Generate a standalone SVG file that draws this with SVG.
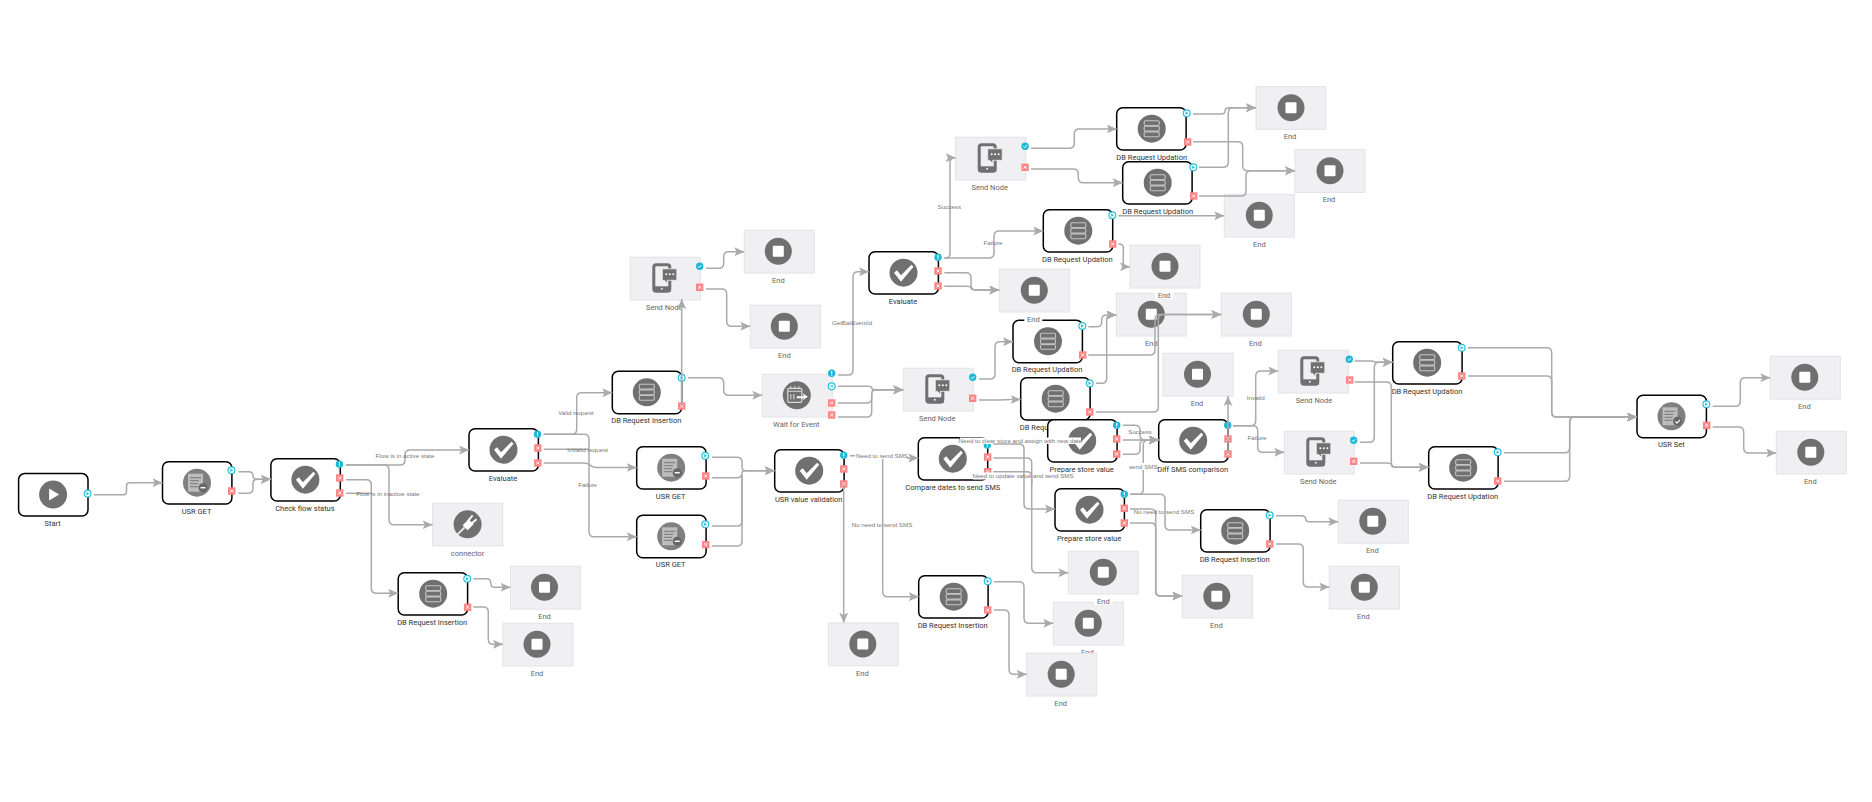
<svg xmlns="http://www.w3.org/2000/svg" width="1872" height="802" viewBox="0 0 1872 802">
<style>
text{font-family:Roboto,"Liberation Sans",Arial,sans-serif}
.n{fill:#fff;stroke:#000;stroke-width:1.5}
.b{fill:#f0f0f2;stroke:#e6e6e8;stroke-width:1.2}
.l{font-size:7.500px;fill:#333;text-anchor:middle}
.g{font-size:7.500px;fill:#666;text-anchor:middle}
.e{font-size:6.2px;fill:#777;text-anchor:middle;font-family:"Liberation Sans",Arial,sans-serif}
.w{fill:#fff}
.c path{fill:none;stroke:#aaa;stroke-width:1.500;marker-end:url(#a)}
.c path.t{marker-end:none}
</style>
<defs>
<marker id="a" markerUnits="userSpaceOnUse" markerWidth="11" markerHeight="9" refX="10" refY="4.500" orient="auto"><path d="M0 0L10 4.500L0 9L2.200 4.500Z" fill="#aaa"/></marker>
<g id="i-check"><circle r="14" fill="#707070"/><path d="M-9.500 0L-6.500-2.500L-2.500 2.500L8-8L10-6L-2.500 9Z" fill="#fff"/></g>
<g id="i-play"><circle r="14" fill="#707070"/><path d="M-4-6L6 0L-4 6Z" fill="#fff"/></g>
<g id="i-stop"><circle r="13.500" fill="#707070"/><rect x="-5.500" y="-5.500" width="11" height="11" rx="1" fill="#fff"/></g>
<g id="i-db"><circle r="14" fill="#707070"/><g fill="none" stroke="#c4c4c4" stroke-width="1.100"><rect x="-7.500" y="-8" width="15" height="4.800" rx="1.200"/><rect x="-7.500" y="-2.400" width="15" height="4.800" rx="1.200"/><rect x="-7.500" y="3.200" width="15" height="4.800" rx="1.200"/></g></g>
<g id="i-get"><circle r="14" fill="#808080"/><rect x="-9" y="-9" width="15" height="18" fill="#bdbdbd"/><path d="M-7-5H4M-7-2H2M-7 1H1M-7 4H1" stroke="#777" stroke-width="1"/><circle cx="6" cy="5" r="4.500" fill="#666"/><path d="M3.500 5H8.500" stroke="#fff" stroke-width="1.500"/></g>
<g id="i-set"><circle r="14" fill="#808080"/><rect x="-9" y="-9" width="15" height="18" fill="#bdbdbd"/><path d="M-7-5H4M-7-2H2M-7 1H1M-7 4H1" stroke="#777" stroke-width="1"/><circle cx="6" cy="5" r="4.500" fill="#666"/><path d="M3.800 5L5.500 6.800L8.500 3.500" fill="none" stroke="#fff" stroke-width="1.200"/></g>
<g id="i-send"><rect x="-11.500" y="-13.500" width="16" height="26.500" rx="2.500" fill="none" stroke="#707070" stroke-width="3"/><path d="M-12 8H5.500V13.500H-12Z" fill="#707070"/><circle cx="-3.500" cy="10.500" r="1" fill="#f0f0f2"/><path d="M-3-9.500H11.500V2H2V5L-1 2H-3Z" fill="#707070" stroke="#f0f0f2" stroke-width=".8"/><circle cx="1" cy="-4" r="1" fill="#fff"/><circle cx="4.500" cy="-4" r="1" fill="#fff"/><circle cx="8" cy="-4" r="1" fill="#fff"/></g>
<g id="i-wait"><circle r="14" fill="#707070"/><rect x="-9" y="-7" width="14" height="14" rx="1" fill="none" stroke="#d8d8d8" stroke-width="1.200"/><path d="M-9-4H5M-6-9V-6M-2-9V-6M2-9V-6M-6-1V4M-3-1V4" stroke="#d8d8d8" stroke-width="1.100"/><path d="M0 1H7L6 -2L11 1.500L6 5L7 3H0Z" fill="#fff"/></g>
<g id="i-plug"><circle r="14" fill="#707070"/><path d="M-11 11L-3 3M-6 6L-9 9" stroke="#f0f0f2" stroke-width="1.800"/><path d="M-5 1L1-5L6 0L0 6Z" fill="#fff"/><path d="M0-3L5-9M3 0L9-5" stroke="#fff" stroke-width="1.800"/></g>
<g id="p-play"><circle r="3.400" fill="#fff" stroke="#2bbfdc" stroke-width="1.200"/><path d="M-1.200-1.800L1.800 0L-1.200 1.800Z" fill="#2bbfdc"/></g>
<g id="p-x"><rect x="-3.700" y="-3.700" width="7.400" height="7.400" fill="#ff8585"/><path d="M-1.500-1.500L1.500 1.500M1.500-1.500L-1.500 1.500" stroke="#fff" stroke-width="1"/></g>
<g id="p-bang"><circle r="3.700" fill="#1fb7d8"/><path d="M0-2.200V.600M0 1.400V2.400" stroke="#fff" stroke-width="1.100"/></g>
<g id="p-check"><circle r="3.700" fill="#1fb7d8"/><path d="M-1.600 0L-.400 1.300L1.700-1.200" fill="none" stroke="#fff" stroke-width="1"/></g>
<g id="p-cx"><circle r="3.500" fill="#fff" stroke="#2bbfdc" stroke-width="1.200"/><path d="M-1.300-1.300L1.300 1.300M1.300-1.300L-1.300 1.300" stroke="#2bbfdc" stroke-width="1"/></g>
<g id="p-dot"><circle r="3.700" fill="#1fb7d8"/></g>
</defs>
<rect width="1872" height="802" fill="#fff"/>
<g id="nodes">
<g id="start" transform="translate(18.600 473.600)"><rect class="n" width="69.400" height="42.400" rx="6"/><use href="#i-play" x="34.500" y="21"/><use href="#p-play" x="69" y="20"/><text class="l" x="34" y="52">Start</text></g>
<g id="usr-get-1" transform="translate(162.500 461.700)"><rect class="n" width="69.400" height="42.400" rx="6"/><use href="#i-get" x="34.500" y="21"/><use href="#p-play" x="69" y="8.600"/><use href="#p-x" x="69.200" y="29.300"/><text class="l" x="34" y="52">USR GET</text></g>
<g id="check-flow" transform="translate(270.900 458.700)"><rect class="n" width="69.400" height="42.400" rx="6"/><use href="#i-check" x="34.500" y="21"/><use href="#p-bang" x="68.500" y="5.600"/><use href="#p-x" x="68.800" y="19.300"/><use href="#p-x" x="68.800" y="34.300"/><text class="l" x="34" y="52">Check flow status</text></g>
<g id="evaluate-1" transform="translate(469 428.700)"><rect class="n" width="69.400" height="42.400" rx="6"/><use href="#i-check" x="34.500" y="21"/><use href="#p-bang" x="68.500" y="5.600"/><use href="#p-x" x="68.800" y="19.300"/><use href="#p-x" x="68.800" y="34.300"/><text class="l" x="34" y="52">Evaluate</text></g>
<g id="connector" transform="translate(432.600 503.300)"><rect class="b" width="70" height="42.700"/><use href="#i-plug" x="35" y="21"/><text class="g" x="35" y="52.500">connector</text></g>
<g id="db-insert-1" transform="translate(398.200 572.700)"><rect class="n" width="69.400" height="42.400" rx="6"/><use href="#i-db" x="35" y="21"/><use href="#p-play" x="69" y="6"/><use href="#p-x" x="69.400" y="34.600"/><text class="l" x="34" y="52">DB Request Insertion</text></g>
<g id="end-a" transform="translate(510.500 566.300)"><rect class="b" width="70" height="42.700"/><use href="#i-stop" x="34" y="21"/><text class="g" x="34" y="52.500">End</text></g>
<g id="end-b" transform="translate(503 623.300)"><rect class="b" width="70" height="42.700"/><use href="#i-stop" x="34" y="21"/><text class="g" x="34" y="52.500">End</text></g>
<g id="db-insert-2" transform="translate(612.300 371.300)"><rect class="n" width="69.400" height="42.400" rx="6"/><use href="#i-db" x="34.500" y="21"/><use href="#p-play" x="69.400" y="6.400"/><use href="#p-x" x="69.400" y="34.700"/><text class="l" x="34" y="52">DB Request Insertion</text></g>
<g id="send-1" transform="translate(630.300 257.300)"><rect class="b" width="70" height="42.700"/><use href="#i-send" x="35" y="21"/><use href="#p-check" x="69.400" y="9"/><use href="#p-x" x="69.400" y="30"/><text class="g" x="34" y="52.500">Send Node</text></g>
<g id="end-c" transform="translate(744.300 230.300)"><rect class="b" width="70" height="42.700"/><use href="#i-stop" x="34" y="21"/><text class="g" x="34" y="52.500">End</text></g>
<g id="end-d" transform="translate(750.300 305.300)"><rect class="b" width="70" height="42.700"/><use href="#i-stop" x="34" y="21"/><text class="g" x="34" y="52.500">End</text></g>
<g id="wait" transform="translate(762.300 374.300)"><rect class="b" width="70" height="42.700"/><use href="#i-wait" x="34.500" y="21"/><use href="#p-bang" x="69.400" y="-1"/><use href="#p-cx" x="69.400" y="12"/><use href="#p-x" x="69.400" y="28.700"/><use href="#p-x" x="69.400" y="40.700"/><text class="g" x="34" y="52.500">Wait for Event</text></g>
<g id="usr-get-2" transform="translate(636.700 446.700)"><rect class="n" width="69.400" height="42.400" rx="6"/><use href="#i-get" x="34.500" y="21"/><use href="#p-play" x="68.600" y="9"/><use href="#p-x" x="69" y="29.300"/><text class="l" x="34" y="52">USR GET</text></g>
<g id="usr-get-3" transform="translate(636.700 515.300)"><rect class="n" width="69.400" height="42.400" rx="6"/><use href="#i-get" x="34.500" y="21"/><use href="#p-play" x="68.600" y="9"/><use href="#p-x" x="69" y="29.300"/><text class="l" x="34" y="52">USR GET</text></g>
<g id="usr-validation" transform="translate(774.700 449.700)"><rect class="n" width="69.400" height="42.400" rx="6"/><use href="#i-check" x="34.500" y="21"/><use href="#p-bang" x="69" y="5.600"/><use href="#p-x" x="69" y="19.300"/><use href="#p-x" x="69" y="34.300"/><text class="l" x="34" y="52">USR value validation</text></g>
<g id="evaluate-2" transform="translate(869 251.700)"><rect class="n" width="69.400" height="42.400" rx="6"/><use href="#i-check" x="34.500" y="21"/><use href="#p-bang" x="69" y="5.600"/><use href="#p-x" x="69" y="19.300"/><use href="#p-x" x="69" y="34.300"/><text class="l" x="34" y="52">Evaluate</text></g>
<g id="send-2" transform="translate(903.300 368.300)"><rect class="b" width="70" height="42.700"/><use href="#i-send" x="35" y="21"/><use href="#p-check" x="69.400" y="9"/><use href="#p-x" x="69.400" y="30"/><text class="g" x="34" y="52.500">Send Node</text></g>
<g id="send-3" transform="translate(955.700 137.300)"><rect class="b" width="70" height="42.700"/><use href="#i-send" x="35" y="21"/><use href="#p-check" x="69.400" y="9"/><use href="#p-x" x="69.400" y="30"/><text class="g" x="34" y="52.500">Send Node</text></g>
<g id="db-up-a" transform="translate(1116.700 107.700)"><rect class="n" width="69.400" height="42.400" rx="6"/><use href="#i-db" x="35" y="21"/><use href="#p-play" x="70" y="5.600"/><use href="#p-x" x="71" y="34.300"/><text class="l" x="35" y="52">DB Request Updation</text></g>
<g id="db-up-b" transform="translate(1122.700 161.700)"><rect class="n" width="69.400" height="42.400" rx="6"/><use href="#i-db" x="35" y="21"/><use href="#p-play" x="70.600" y="5.600"/><use href="#p-x" x="71" y="34.300"/><text class="l" x="35" y="52">DB Request Updation</text></g>
<g id="db-up-c" transform="translate(1043.300 209.700)"><rect class="n" width="69.400" height="42.400" rx="6"/><use href="#i-db" x="35" y="21"/><use href="#p-play" x="69" y="5.600"/><use href="#p-x" x="69.400" y="34.300"/><text class="l" x="34" y="52">DB Request Updation</text></g>
<g id="end-e" transform="translate(1256 86.700)"><rect class="b" width="70" height="42.700"/><use href="#i-stop" x="35" y="21"/><text class="g" x="34" y="52.500">End</text></g>
<g id="end-f" transform="translate(1295 149.700)"><rect class="b" width="70" height="42.700"/><use href="#i-stop" x="35" y="21"/><text class="g" x="34" y="52.500">End</text></g>
<g id="end-g" transform="translate(1224.300 194.300)"><rect class="b" width="70" height="42.700"/><use href="#i-stop" x="35" y="21"/><text class="g" x="35" y="52.500">End</text></g>
<g id="end-j" transform="translate(1116.300 293.300)"><rect class="b" width="70" height="42.700"/><use href="#i-stop" x="35" y="21"/><text class="g" x="35" y="52.500">End</text></g>
<g id="end-k" transform="translate(1221.300 293.300)"><rect class="b" width="70" height="42.700"/><use href="#i-stop" x="35" y="21"/><text class="g" x="34" y="52.500">End</text></g>
<g id="db-up-d" transform="translate(1013 320.300)"><rect class="n" width="69.400" height="42.400" rx="6"/><use href="#i-db" x="35" y="21"/><use href="#p-play" x="69.300" y="5.700"/><use href="#p-x" x="69.700" y="34.700"/><text class="l" x="34" y="52">DB Request Updation</text></g>
<g id="db-up-e" transform="translate(1020.700 377.700)"><rect class="n" width="69.400" height="42.400" rx="6"/><use href="#i-db" x="35" y="21"/><use href="#p-play" x="69" y="5.600"/><use href="#p-x" x="69" y="34.300"/><text class="l" x="34.500" y="52">DB Request Updation</text></g>
<g id="prepare-1" transform="translate(1047.700 419.700)"><rect class="n" width="69.400" height="42.400" rx="6"/><use href="#i-check" x="34.500" y="21"/><use href="#p-bang" x="69" y="5.600"/><use href="#p-x" x="69" y="19.300"/><use href="#p-x" x="69" y="34.300"/><text class="l" x="34" y="52">Prepare store value</text></g>
<g id="prepare-2" transform="translate(1055 488.700)"><rect class="n" width="69.400" height="42.400" rx="6"/><use href="#i-check" x="34.500" y="21"/><use href="#p-bang" x="69.300" y="5.600"/><use href="#p-x" x="69.300" y="19.600"/><use href="#p-x" x="69.300" y="34.300"/><text class="l" x="34" y="52">Prepare store value</text></g>
<g id="diff-sms" transform="translate(1158.700 419.700)"><rect class="n" width="69.400" height="42.400" rx="6"/><use href="#i-check" x="34.500" y="21"/><use href="#p-dot" x="69" y="5.600"/><use href="#p-x" x="69.300" y="19.300"/><use href="#p-x" x="69.300" y="34.300"/><text class="l" x="34" y="52">Diff SMS comparison</text></g>
<g id="end-l" transform="translate(1163 353.300)"><rect class="b" width="70" height="42.700"/><use href="#i-stop" x="34.500" y="21"/><text class="g" x="34" y="52.500">End</text></g>
<g id="compare" transform="translate(918.300 437.700)"><rect class="n" width="69.400" height="42.400" rx="6"/><use href="#i-check" x="34.500" y="21"/><use href="#p-bang" x="69" y="7.300"/><use href="#p-x" x="69.400" y="19.300"/><use href="#p-x" x="69.400" y="34"/><text class="l" x="34.400" y="52">Compare dates to send SMS</text></g>
<g id="end-m" transform="translate(828.300 623)"><rect class="b" width="70" height="42.700"/><use href="#i-stop" x="34.500" y="21"/><text class="g" x="34" y="52.500">End</text></g>
<g id="db-insert-f" transform="translate(918.700 575.700)"><rect class="n" width="69.400" height="42.400" rx="6"/><use href="#i-db" x="35" y="21"/><use href="#p-play" x="69" y="5.600"/><use href="#p-x" x="69" y="34.300"/><text class="l" x="34" y="52">DB Request Insertion</text></g>
<g id="end-q" transform="translate(1182.300 575.300)"><rect class="b" width="70" height="42.700"/><use href="#i-stop" x="34.500" y="21"/><text class="g" x="34" y="52.500">End</text></g>
<g id="db-insert-g" transform="translate(1200.700 509.700)"><rect class="n" width="69.400" height="42.400" rx="6"/><use href="#i-db" x="34.500" y="21"/><use href="#p-play" x="69" y="5.600"/><use href="#p-x" x="69" y="34.300"/><text class="l" x="34" y="52">DB Request Insertion</text></g>
<g id="end-r" transform="translate(1338.300 500.300)"><rect class="b" width="70" height="42.700"/><use href="#i-stop" x="34.500" y="21"/><text class="g" x="34" y="52.500">End</text></g>
<g id="end-s" transform="translate(1329.300 566.300)"><rect class="b" width="70" height="42.700"/><use href="#i-stop" x="35" y="21"/><text class="g" x="34" y="52.500">End</text></g>
<g id="send-4" transform="translate(1278.300 350.300)"><rect class="b" width="70" height="42.700"/><use href="#i-send" x="35" y="21"/><use href="#p-check" x="71" y="9"/><use href="#p-x" x="71.400" y="29.700"/><text class="g" x="35.700" y="52.500">Send Node</text></g>
<g id="send-5" transform="translate(1284.300 431.300)"><rect class="b" width="70" height="42.700"/><use href="#i-send" x="35" y="21"/><use href="#p-check" x="69.400" y="9"/><use href="#p-x" x="69.400" y="30"/><text class="g" x="34" y="52.500">Send Node</text></g>
<g id="db-up-h" transform="translate(1392.700 341.700)"><rect class="n" width="69.400" height="42.400" rx="6"/><use href="#i-db" x="34.500" y="21"/><use href="#p-play" x="69" y="6"/><use href="#p-x" x="69" y="34.300"/><text class="l" x="34.300" y="52">DB Request Updation</text></g>
<g id="db-up-i" transform="translate(1428.700 446.700)"><rect class="n" width="69.400" height="42.400" rx="6"/><use href="#i-db" x="34.500" y="21"/><use href="#p-play" x="69" y="5.600"/><use href="#p-x" x="69" y="34.300"/><text class="l" x="34" y="52">DB Request Updation</text></g>
<g id="usr-set" transform="translate(1637 395.300)"><rect class="n" width="69.400" height="42.400" rx="6"/><use href="#i-set" x="34.500" y="21"/><use href="#p-play" x="69.300" y="9"/><use href="#p-x" x="69.700" y="30"/><text class="l" x="34.300" y="52">USR Set</text></g>
<g id="end-t" transform="translate(1770.300 356.300)"><rect class="b" width="70" height="42.700"/><use href="#i-stop" x="34.500" y="21"/><text class="g" x="34" y="52.500">End</text></g>
<g id="end-u" transform="translate(1776.300 431.300)"><rect class="b" width="70" height="42.700"/><use href="#i-stop" x="34.500" y="21"/><text class="g" x="34" y="52.500">End</text></g>
<g id="end-o" transform="translate(1053.300 602.300)"><rect class="b" width="70" height="42.700"/><use href="#i-stop" x="35" y="21"/><text class="g" x="34" y="52.500">End</text></g>
<g id="end-p" transform="translate(1026.700 653.300)"><rect class="b" width="70" height="42.700"/><use href="#i-stop" x="34.500" y="21"/><text class="g" x="34" y="52.500">End</text></g>
<g id="end-h" transform="translate(1130 245.300)"><rect class="b" width="70" height="42.700"/><use href="#i-stop" x="35" y="21"/><rect class="w" x="25" y="44" width="18" height="9.500"/><text class="g" x="34" y="52.500">End</text></g>
<g id="end-i" transform="translate(999.300 269.300)"><rect class="b" width="70" height="42.700"/><use href="#i-stop" x="35" y="21"/><rect class="w" x="25" y="44" width="18" height="9.500"/><text class="g" x="34" y="52.500">End</text></g>
<g id="end-n" transform="translate(1068.300 551.300)"><rect class="b" width="70" height="42.700"/><use href="#i-stop" x="35" y="21"/><rect class="w" x="26" y="44" width="18" height="9.500"/><text class="g" x="35" y="52.500">End</text></g>
</g>
<g id="label-backs">
<rect class="w" x="960" y="437.500" width="121" height="6.500"/>
<rect class="w" x="973" y="472.500" width="100" height="7"/>
</g>
<g id="connectors" class="c">
<path d="M94 494.700H123.500Q126.500 494.700 126.500 491.700V485.700Q126.500 482.700 129.500 482.700H162.500"/>
<path d="M238.400 471.700H249Q253 471.700 253 475.500Q253 479.300 257 479.300H270.900"/>
<path d="M238.400 493.300H248Q253 493.300 253 488.300V483.300Q253 479.300 257 479.300H270.900"/>
<path d="M346 465H400Q405 465 405 460V455Q405 450 410 450H469"/>
<path d="M346 465H384Q389 465 389 470V519.700Q389 524.700 394 524.700H432.600"/>
<path d="M346 479.700H366.300Q371.300 479.700 371.300 484.700V588.300Q371.300 593.300 376.300 593.300H398.200"/>
<path class="t" d="M346 493.300H371.300"/>
<path d="M473.300 578.700H486.700Q490.700 578.700 490.700 582.700Q490.700 587.300 494.700 587.300H510.500"/>
<path d="M473.300 607H483.300Q488.300 607 488.300 612V639.300Q488.300 644.300 493.300 644.300H503"/>
<path d="M543.700 434.300H571.700Q576.700 434.300 576.700 429.300V397.700Q576.700 392.700 581.700 392.700H612.300"/>
<path d="M543.700 434.300H584Q589 434.300 589 439.300V531.700Q589 536.700 594 536.700H636.700"/>
<path class="t" d="M543.700 449.300H589"/>
<path d="M543.700 463H584Q587.500 463 590 465Q592.500 467.500 597 467.500H636.700"/>
<path d="M681.700 406V299"/>
<path d="M688 377.700H718.700Q723.700 377.700 723.700 382.700V390.300Q723.700 395.300 728.700 395.300H762.300"/>
<path d="M706 268.300H718.700Q723.700 268.300 723.700 263.300V256.700Q723.700 251.700 728.700 251.700H744.300"/>
<path d="M706 289H721.700Q726.700 289 726.700 294V321.300Q726.700 326.300 731.700 326.300H750.300"/>
<path d="M838 375H848Q853 375 853 370V276.700Q853 271.700 858 271.700H869"/>
<path d="M838 386.300H867.700Q871.700 386.300 871.700 388Q871.700 389.700 875.700 389.700H903.300"/>
<path d="M838 403H866.700Q871.700 403 871.700 398V393.700Q871.700 389.700 875.700 389.700H903.300"/>
<path d="M838 417H866.700Q871.700 417 871.700 412V393.700Q871.700 389.700 875.700 389.700H903.300"/>
<path d="M712 457.300H737Q742 457.300 742 462.300V466.700Q742 470.700 746 470.700H774.700"/>
<path d="M712 477.700H737Q742 477.700 742 472.700Q742 470.700 746 470.700H774.700"/>
<path class="t" d="M712 526H737Q742 526 742 521V475"/>
<path class="t" d="M712 546H737Q742 546 742 541V475"/>
<path d="M843.700 484V622.700"/>
<path class="t" d="M850 455.700H882.700V591.700"/>
<path d="M882.700 458H918.300"/>
<path d="M882.700 591.700Q882.700 596.700 887.700 596.700H918.700"/>
<path d="M944.300 258H945Q950 258 950 253V162.700Q950 157.700 955 157.700H955.700"/>
<path d="M944.300 258H989Q994 258 994 253V236Q994 231 999 231H1043.300"/>
<path d="M944.300 272.700H966Q971 272.700 971 277.700V285Q971 290 976 290H999.300"/>
<path d="M944.300 286.300H967Q971 286.300 971 288Q971 290 976 290H999.300"/>
<path d="M1031 148.300H1069.300Q1074.300 148.300 1074.300 143.300V134Q1074.300 129 1079.300 129H1116.700"/>
<path d="M1031 169H1073.300Q1078.300 169 1078.300 174V177.700Q1078.300 182.700 1083.300 182.700H1122.700"/>
<path d="M1193 114H1221Q1225 114 1225 111Q1225 107.700 1229 107.700H1256"/>
<path d="M1193 141.700H1237.700Q1242.700 141.700 1242.700 146.700V165.700Q1242.700 170.700 1247.700 170.700H1295"/>
<path d="M1199 167.300H1223.300Q1228.300 167.300 1228.300 162.300V112.700Q1228.300 107.700 1233.300 107.700H1256"/>
<path d="M1199 196H1241Q1246 196 1246 191V175.700Q1246 170.700 1251 170.700H1295"/>
<path d="M1118.300 215.700H1224.300"/>
<path d="M1118.300 244H1119Q1123.300 244 1123.300 248V262Q1123.300 266.700 1127 266.700H1130"/>
<path d="M979 379H990Q995 379 995 374V346.700Q995 341.700 1000 341.700H1013"/>
<path d="M979 400H1000Q1005 399.500 1010 399.500H1020.700"/>
<path d="M1088.300 326.700H1097Q1101.700 326.700 1101.700 322V320Q1101.700 315 1106.700 315H1116.300"/>
<path d="M1096 383.300H1101.700Q1106.700 383.300 1106.700 378.300V320Q1106.700 315 1111.700 315H1116.300"/>
<path d="M1088.300 355H1150Q1155 355 1155 350V319.500Q1155 314.500 1160 314.500H1221.300"/>
<path d="M1096 412H1153.300Q1158.300 412 1158.300 407V319.500Q1158.300 314.500 1163.300 314.500H1221.300"/>
<path d="M1122.700 425.300H1135Q1140 425.300 1140 430.300V435Q1140 440 1145 440H1158.700"/>
<path d="M1122.700 440H1158.700"/>
<path d="M1122.700 454.300H1135Q1140 454.300 1140 449.300V445Q1140 440 1145 440H1158.700"/>
<path d="M1130 494.300H1138.300Q1143.300 494.300 1143.300 489.300V445Q1143.300 440 1148.300 440H1158.700"/>
<path d="M1130 494.300H1160Q1165 494.300 1165 499.300V525Q1165 530 1170 530H1200.700"/>
<path d="M1130 509H1150.700Q1155.700 509 1155.700 514V591Q1155.700 596 1160.700 596H1182.300"/>
<path d="M1130 523H1150.700Q1155.700 523 1155.700 528V591Q1155.700 596 1160.700 596H1182.300"/>
<path d="M993.300 444H1019Q1024 444 1024 449V504Q1024 509 1029 509H1055"/>
<path d="M993.300 458H1026.700Q1031.700 458 1031.700 463V567.700Q1031.700 572.700 1036.700 572.700H1068.300"/>
<path class="t" d="M993.300 471.700H1026.700Q1031.700 471.700 1031.700 476.700V485"/>
<path d="M994 581.700H1019Q1024 581.700 1024 586.700V618.300Q1024 623.300 1029 623.300H1053.300"/>
<path d="M994 610H1004Q1009 610 1009 615V669.300Q1009 674.300 1014 674.300H1026.700"/>
<path d="M1228 454V396"/>
<path d="M1233 425.700H1250.700Q1255.700 425.700 1255.700 420.700V376Q1255.700 371 1260.700 371H1278.300"/>
<path d="M1233 425.700H1252.700Q1257.700 425.700 1257.700 430.700V447.300Q1257.700 452.300 1262.700 452.300H1284.300"/>
<path d="M1276 515.700H1301Q1305.700 515.700 1305.700 519Q1305.700 521.700 1309 521.700H1338.300"/>
<path d="M1276 544H1298.300Q1303.300 544 1303.300 549V582Q1303.300 587 1308.300 587H1329.300"/>
<path d="M1354.500 361H1372Q1374.500 362.300 1378 362.300H1392.700"/>
<path d="M1360 442.300H1369.300Q1374.300 442.300 1374.300 437.300V367.300Q1374.300 362.300 1379.300 362.300H1392.700"/>
<path d="M1354.500 382H1386.300Q1391.300 382 1391.300 387V462.300Q1391.300 467.300 1396.300 467.300H1428.700"/>
<path d="M1360 463H1386.300Q1391.300 463 1391.300 465Q1391.300 467.300 1396.300 467.300H1428.700"/>
<path d="M1468 347.700H1546.700Q1551.700 347.700 1551.700 352.700V412Q1551.700 417 1556.700 417H1637"/>
<path d="M1468 376H1546.700Q1551.700 376 1551.700 381V412Q1551.700 417 1556.700 417H1637"/>
<path d="M1504 452.700H1564.700Q1569.700 452.700 1569.700 447.700V422Q1569.700 417 1574.700 417H1637"/>
<path d="M1504 481.300H1564.700Q1569.700 481.300 1569.700 476.300V422Q1569.700 417 1574.700 417H1637"/>
<path d="M1712.700 406.300H1735.300Q1740.300 406.300 1740.300 401.300V382.700Q1740.300 377.700 1745.300 377.700H1770.300"/>
<path d="M1712.700 427H1738.700Q1743.700 427 1743.700 432V448Q1743.700 453 1748.700 453H1776.300"/>
</g>
<g id="edge-labels">
<text class="e" x="405" y="458">Flow is in active state</text>
<text class="e" x="388" y="496">Flow is in inactive state</text>
<text class="e" x="576" y="415">Valid request</text>
<text class="e" x="587.600" y="452">InValid request</text>
<text class="e" x="587.600" y="487">Failure</text>
<text class="e" x="852" y="325">GetBatEventId</text>
<rect class="w" x="855" y="452" width="52" height="7"/>
<text class="e" x="882" y="457.800">Need to send SMS</text>
<text class="e" x="882" y="527">No need to send SMS</text>
<text class="e" x="949.300" y="209">Success</text>
<text class="e" x="993" y="245">Failure</text>
<text class="e" x="1020.300" y="443">Need to clear store and assign with new date</text>
<text class="e" x="1023" y="478">Need to update value and send SMS</text>
<text class="e" x="1140" y="433.700">Success</text>
<rect class="w" x="1128" y="463" width="29" height="7"/>
<text class="e" x="1143.300" y="469">send SMS</text>
<text class="e" x="1164" y="513.700">No need to send SMS</text>
<text class="e" x="1255.700" y="400">Invalid</text>
<text class="e" x="1257" y="440">Failure</text>
</g>
</svg>
